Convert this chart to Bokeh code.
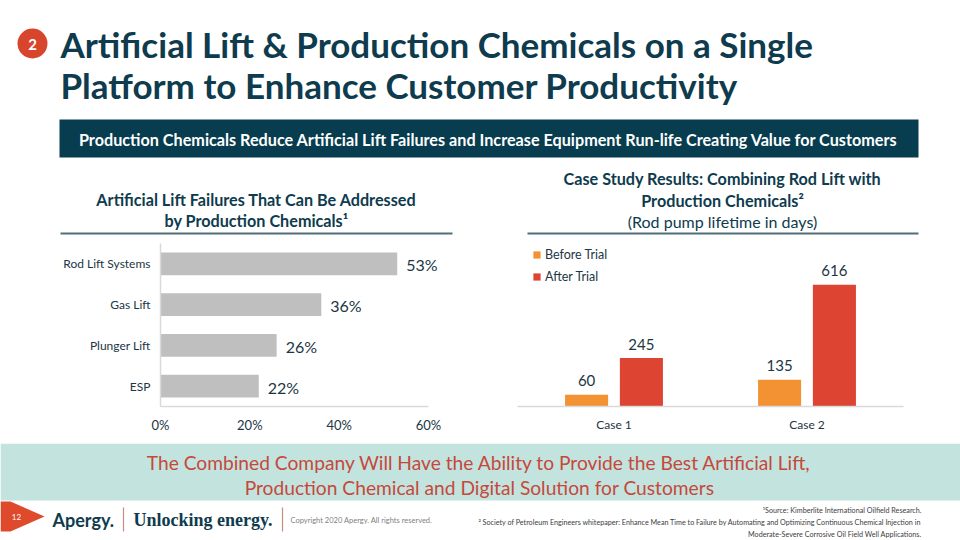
from bokeh.plotting import figure
from bokeh.layouts import column, row
from bokeh.models import Range1d, FactorRange, FixedTicker, NumeralTickFormatter, ColumnDataSource
from bokeh.transform import dodge
from bokeh.core.properties import value
from bokeh.embed import file_html
from bokeh.resources import INLINE

# ---------------- data ----------------
title_lines = ["Artificial Lift & Production Chemicals on a Single",
               "Platform to Enhance Customer Productivity"]
banner_text = ("Production Chemicals Reduce Artificial Lift Failures and Increase "
               "Equipment Run-life Creating Value for Customers")
left_title = ["Artificial Lift Failures That Can Be Addressed", "by Production Chemicals\u00b9"]
right_title = ["Case Study Results: Combining Rod Lift with", "Production Chemicals\u00b2"]
right_subtitle = "(Rod pump lifetime in days)"

lift_types = ["Rod Lift Systems", "Gas Lift", "Plunger Lift", "ESP"]
failure_share = [0.53, 0.36, 0.26, 0.22]
pct_ticks = [0, 0.2, 0.4, 0.6]

cases = ["Case 1", "Case 2"]
before_trial = [60, 135]
after_trial = [245, 616]
series_names = ["Before Trial", "After Trial"]

bottom_lines = ["The Combined Company Will Have the Ability to Provide the Best Artificial Lift,",
                "Production Chemical and Digital Solution for Customers"]
footnotes = ["\u00b9Source: Kimberlite International Oilfield Research.",
             "\u00b2 Society of Petroleum Engineers whitepaper: Enhance Mean Time to Failure by Automating and Optimizing Continuous Chemical Injection in",
             "Moderate-Severe Corrosive Oil Field Well Applications."]
page_number = "12"
logo_text = "Apergy."
tagline = "Unlocking energy."
copyright_text = "Copyright 2020 Apergy. All rights reserved."

# ---------------- style ----------------
FONT = value("Lato")
DARK = "#0e3b4d"
BANNER = "#073d4f"
TXT = "#1c3644"
SLATE = "#4f6e78"
AXIS = "#d9d9d9"
GRAYBAR = "#bfbfbf"
ORANGE = "#f39233"
RED = "#dd4432"
LIGHT = "#c3e3de"
REDTXT = "#c6483b"
BADGE = "#e04a2c"


def deco(height, y_top, y_bottom):
    p = figure(width=960, height=height, x_range=Range1d(0, 960),
               y_range=Range1d(y_bottom, y_top), toolbar_location=None,
               output_backend="svg", x_axis_location=None, y_axis_location=None,
               min_border=0, outline_line_color=None)
    p.grid.visible = False
    return p


# ---------------- header ----------------
hd = deco(240, 0, 240)
hd.scatter([32], [43], size=30, color="#d8452d", line_color=None)
hd.text([32], [43.5], ["2"], text_font=FONT, text_font_style="bold", text_font_size="15px",
        text_color="white", text_align="center", text_baseline="middle")
hd.text([60, 60], [43, 84], title_lines, text_font=FONT, text_font_style="bold",
        text_font_size="35px", text_color=DARK, text_baseline="middle")
hd.quad(left=[59], right=[918], top=[119], bottom=[157], color=BANNER, line_color=None)
hd.text([488], [138.5], [banner_text], text_font=FONT, text_font_style="bold",
        text_font_size="16.2px", text_color="white", text_align="center", text_baseline="middle")
hd.text([256, 256], [199, 220], left_title, text_font=FONT, text_font_style="bold",
        text_font_size="16.2px", text_color=DARK, text_align="center", text_baseline="middle")
hd.text([722, 722], [178, 200], right_title, text_font=FONT, text_font_style="bold",
        text_font_size="16.2px", text_color=DARK, text_align="center", text_baseline="middle")
hd.text([722], [221], [right_subtitle], text_font=FONT,
        text_font_size="16px", text_color=DARK, text_align="center", text_baseline="middle")
hd.segment(x0=[60, 527], y0=[233, 233], x1=[452, 918], y1=[233, 233], line_width=2, color=SLATE)

# ---------------- left chart ----------------
pL = figure(width=480, height=203, y_range=FactorRange(factors=lift_types[::-1]),
            x_range=Range1d(0, pct_ticks[-1] * 312 / 268), min_border_left=160,
            min_border_right=8, min_border_top=3, min_border_bottom=35,
            toolbar_location=None, output_backend="svg", outline_line_color=None)
pL.grid.visible = False
pL.hbar(y=lift_types, right=failure_share, height=0.56, color=GRAYBAR, line_color=None)
pL.text(x=failure_share, y=lift_types, text=[f"{round(v * 100)}%" for v in failure_share],
        x_offset=9, y_offset=1, text_baseline="middle", text_font=FONT, text_font_size="16px",
        text_color=TXT)
xa = pL.xaxis[0]
xa.ticker = FixedTicker(ticks=pct_ticks)
xa.formatter = NumeralTickFormatter(format="0%")
xa.bounds = (pct_ticks[0], pct_ticks[-1])
ya = pL.yaxis[0]
for ax in (xa, ya):
    ax.axis_line_color = AXIS
    ax.axis_line_width = 1.5
    ax.major_tick_line_color = None
    ax.minor_tick_line_color = None
    ax.major_tick_out = 0
    ax.major_tick_in = 0
    ax.major_label_standoff = 10
    ax.major_label_text_font = "Lato"
    ax.major_label_text_color = TXT
xa.major_label_text_font_size = "13px"
ya.major_label_text_font_size = "12px"

# ---------------- right chart ----------------
src = ColumnDataSource(dict(case=cases, before=before_trial, after=after_trial,
                            before_lbl=[str(v) for v in before_trial],
                            after_lbl=[str(v) for v in after_trial]))
pR = figure(width=480, height=203, x_range=FactorRange(factors=cases),
            y_range=Range1d(0, 825), min_border_left=37, min_border_right=57,
            min_border_top=0, min_border_bottom=37, y_axis_location=None,
            toolbar_location=None, output_backend="svg", outline_line_color=None)
pR.grid.visible = False
pR.vbar(x=dodge("case", -0.142, range=pR.x_range), top="before", width=0.223, source=src,
        color=ORANGE, line_color=None, legend_label=series_names[0])
pR.vbar(x=dodge("case", 0.142, range=pR.x_range), top="after", width=0.223, source=src,
        color=RED, line_color=None, legend_label=series_names[1])
pR.text(x=dodge("case", -0.142, range=pR.x_range), y="before", text="before_lbl", source=src,
        y_offset=-14, text_align="center", text_baseline="middle", text_font=FONT,
        text_font_size="15px", text_color=TXT)
pR.text(x=dodge("case", 0.142, range=pR.x_range), y="after", text="after_lbl", source=src,
        y_offset=-14, text_align="center", text_baseline="middle", text_font=FONT,
        text_font_size="15px", text_color=TXT)
xr = pR.xaxis[0]
xr.axis_line_color = AXIS
xr.axis_line_width = 1.5
xr.major_tick_line_color = None
xr.minor_tick_line_color = None
xr.major_tick_out = 0
xr.major_tick_in = 0
xr.major_label_standoff = 10
xr.major_label_text_font = "Lato"
xr.major_label_text_font_size = "12px"
xr.major_label_text_color = TXT
lg = pR.legend[0]
lg.location = (15, 122.5)
lg.padding = 0
lg.margin = 0
lg.spacing = 7
lg.glyph_width = 9
lg.glyph_height = 9
lg.label_height = 15
lg.label_standoff = 4
lg.label_text_font = "Lato"
lg.label_text_font_size = "12.5px"
lg.label_text_color = TXT
lg.border_line_color = None
lg.background_fill_alpha = 0

# ---------------- footer ----------------
ft = deco(97, 443, 540)
ft.quad(left=[0], right=[960], top=[443], bottom=[500], color=LIGHT, line_color=None)
ft.text([479, 479], [462, 487], bottom_lines, text_font=FONT, text_font_size="19.2px",
        text_color=REDTXT, text_align="center", text_baseline="middle")
ft.patch([0, 10, 44, 10, 0], [501, 501, 516, 531, 531], color=BADGE, line_color=None)
ft.text([16], [516], [page_number], text_font=FONT, text_font_size="8px",
        text_color="white", text_align="center", text_baseline="middle")
ft.text([52], [519], [logo_text], text_font=FONT, text_font_style="bold", text_font_size="18px",
        text_color=DARK, text_baseline="middle")
ft.segment(x0=[123, 282], y0=[507, 507], x1=[123, 282], y1=[531, 531], line_width=1.2,
           color="#c98a7a")
ft.text([133], [519], [tagline], text_font=value("Liberation Serif"), text_font_style="bold",
        text_font_size="18px", text_color=DARK, text_baseline="middle")
ft.text([290], [520], [copyright_text], text_font=FONT, text_font_size="7.5px",
        text_color="#7f7f7f", text_baseline="middle")
ft.text([921, 921, 921], [510, 522, 534], footnotes, text_font=FONT,
        text_font_size="7.2px", text_color="#404040", text_align="right", text_baseline="middle")

layout = column(hd, row(pL, pR), ft)
open("out.html", "w").write(file_html(layout, INLINE))
